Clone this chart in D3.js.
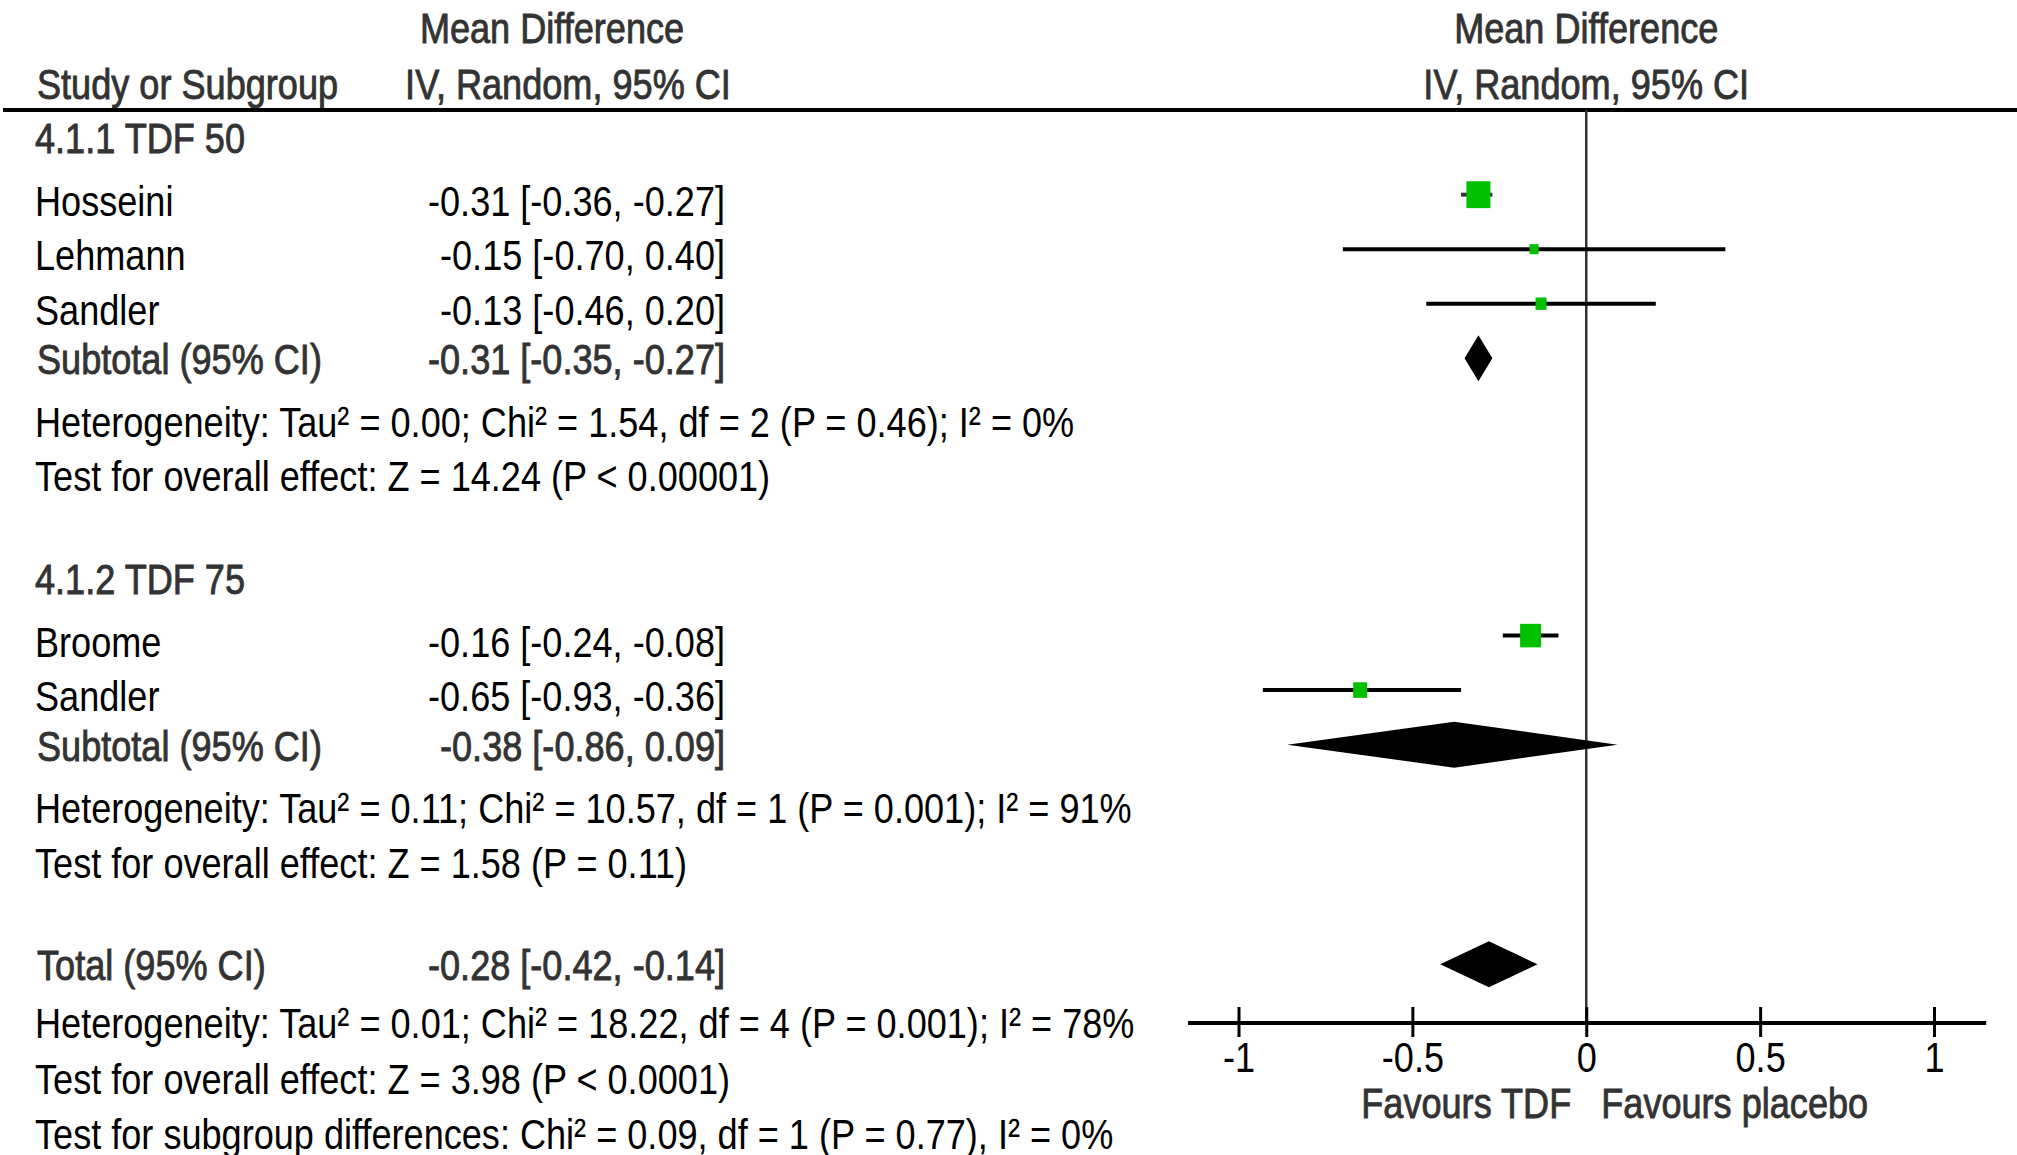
<!DOCTYPE html>
<html>
<head>
<meta charset="utf-8">
<script src="https://cdn.jsdelivr.net/npm/d3@7"></script>
<style>
  html, body { margin: 0; padding: 0; background: #fff; }
  svg { display: block; }
</style>
</head>
<body>
<svg id="chart" width="2017" height="1155"></svg>
<script>
// Forest plot: mean difference (IV, random effects, 95% CI), TDF vs placebo

// ---- study-level data ----
const studyNames  = ["Hosseini", "Lehmann", "Sandler", "Broome", "Sandler"];
const studyGroup  = [0, 0, 0, 1, 1];
const studyMD     = [-0.31, -0.15, -0.13, -0.16, -0.65];
const studyLo     = [-0.36, -0.70, -0.46, -0.24, -0.93];
const studyHi     = [-0.27,  0.40,  0.20, -0.08, -0.36];
const studyWeight = [40.7, 5.7, 8.6, 31.2, 13.8];   // % weight

// ---- subgroup data ----
const groupNames = ["4.1.1 TDF 50", "4.1.2 TDF 75"];
const subMD = [-0.31, -0.38];
const subLo = [-0.35, -0.86];
const subHi = [-0.27,  0.09];
const subHet = [
  "Heterogeneity: Tau\u00B2 = 0.00; Chi\u00B2 = 1.54, df = 2 (P = 0.46); I\u00B2 = 0%",
  "Heterogeneity: Tau\u00B2 = 0.11; Chi\u00B2 = 10.57, df = 1 (P = 0.001); I\u00B2 = 91%"
];
const subTest = [
  "Test for overall effect: Z = 14.24 (P < 0.00001)",
  "Test for overall effect: Z = 1.58 (P = 0.11)"
];

// ---- overall ----
const totalMD = [-0.28];
const totalLo = [-0.42];
const totalHi = [-0.14];
const totalNotes = [
  "Heterogeneity: Tau\u00B2 = 0.01; Chi\u00B2 = 18.22, df = 4 (P = 0.001); I\u00B2 = 78%",
  "Test for overall effect: Z = 3.98 (P < 0.0001)",
  "Test for subgroup differences: Chi\u00B2 = 0.09, df = 1 (P = 0.77), I\u00B2 = 0%"
];

// ---- axis ----
const tickValues = [-1, -0.5, 0, 0.5, 1];
const tickLabels = ["-1", "-0.5", "0", "0.5", "1"];
const favourLabels = ["Favours TDF", "Favours placebo"];

// ---------------------------------------------------------------
const FONT = "'Liberation Sans', Arial, sans-serif";
const FS = 43, SX = 0.84;
const HEAD = "#333";
const GREEN = "#00c000";

const svg = d3.select("#chart");
svg.append("rect").attr("width", 2017).attr("height", 1155).attr("fill", "#fff");

function txt(x, y, s, o = {}) {
  const t = svg.append("text")
    .attr("transform", `translate(${x},${y}) scale(${SX},1)`)
    .attr("font-family", FONT)
    .attr("font-size", o.size || FS)
    .attr("text-anchor", o.anchor || "start")
    .attr("fill", o.color || "#000")
    .text(s);
  if (o.heavy) t.attr("stroke", o.color || "#000").attr("stroke-width", 0.9);
  return t;
}
const fmt = v => v.toFixed(2);
const ciText = (m, l, h) => `${fmt(m)} [${fmt(l)}, ${fmt(h)}]`;

// x scale for the plot panel
const x = d3.scaleLinear().domain([-1, 1]).range([1238.5, 1934]);
const axisExtent = [-1.145, 1.15];

// ---- build the row list ----
const rows = [];
groupNames.forEach((g, gi) => {
  rows.push({ kind: "group", label: g });
  studyNames.forEach((n, i) => {
    if (studyGroup[i] === gi) rows.push({ kind: "study", i });
  });
  rows.push({ kind: "subtotal", gi });
  rows.push({ kind: "het", label: subHet[gi] });
  rows.push({ kind: "test", label: subTest[gi] });
});
rows.push({ kind: "total" });
totalNotes.forEach(s => rows.push({ kind: "note", label: s }));

// vertical advance (in line units) depending on row kind and the row before
const LINE = 54.5;
function advance(prev, cur) {
  if (cur.kind === "study") return prev.kind === "group" ? 1.15 : 1.0;
  if (cur.kind === "subtotal") return 0.91;
  if (cur.kind === "het") return 1.15;
  if (cur.kind === "test") return 1.0;
  if (cur.kind === "group" || cur.kind === "total") return 1.88;
  if (cur.kind === "note") return prev.kind === "total" ? 1.06 : 1.02;
  return 1;
}
let yCur = 153;
rows.forEach((r, k) => {
  if (k > 0) yCur += advance(rows[k - 1], r) * LINE;
  r.y = yCur;
});

// ---- column headers ----
txt(552, 43, "Mean Difference", { anchor: "middle", color: HEAD, heavy: true });
txt(37, 99, "Study or Subgroup", { color: HEAD, heavy: true });
txt(568, 99, "IV, Random, 95% CI", { anchor: "middle", color: HEAD, heavy: true });
txt(x(0), 43, "Mean Difference", { anchor: "middle", color: HEAD, heavy: true });
txt(x(0), 99, "IV, Random, 95% CI", { anchor: "middle", color: HEAD, heavy: true });

svg.append("line").attr("x1", 3).attr("x2", 2017).attr("y1", 110).attr("y2", 110)
  .attr("stroke", "#000").attr("stroke-width", 4);

// ---- zero line ----
const axisY = 1023;
svg.append("line").attr("x1", x(0)).attr("x2", x(0)).attr("y1", 110).attr("y2", axisY)
  .attr("stroke", "#333").attr("stroke-width", 2.5);

// ---- rows ----
const ciRight = 725;
const sideScale = d3.scaleSqrt().domain([0, 100]).range([0, 37.6]);

rows.forEach(r => {
  if (r.kind === "group") {
    txt(35, r.y, r.label, { color: HEAD, heavy: true });
  } else if (r.kind === "study") {
    const i = r.i;
    txt(35, r.y, studyNames[i]);
    txt(ciRight, r.y, ciText(studyMD[i], studyLo[i], studyHi[i]), { anchor: "end" });
    const cy = r.y - 21;
    svg.append("line").attr("x1", x(studyLo[i])).attr("x2", x(studyHi[i]))
      .attr("y1", cy).attr("y2", cy)
      .attr("stroke", studyWeight[i] > 35 ? "#333" : "#000").attr("stroke-width", 4);
    const w = sideScale(studyWeight[i]), h = w * 1.12;
    svg.append("rect").attr("x", x(studyMD[i]) - w / 2).attr("y", cy - h / 2)
      .attr("width", w).attr("height", h).attr("fill", GREEN);
  } else if (r.kind === "subtotal" || r.kind === "total") {
    const m = r.kind === "total" ? totalMD[0] : subMD[r.gi];
    const l = r.kind === "total" ? totalLo[0] : subLo[r.gi];
    const h = r.kind === "total" ? totalHi[0] : subHi[r.gi];
    txt(37, r.y, r.kind === "total" ? "Total (95% CI)" : "Subtotal (95% CI)", { color: HEAD, heavy: true });
    txt(ciRight, r.y, ciText(m, l, h), { anchor: "end", color: HEAD, heavy: true });
    const cy = r.y - 16, hh = 23;
    svg.append("path")
      .attr("d", `M${x(l)},${cy}L${x(m)},${cy - hh}L${x(h)},${cy}L${x(m)},${cy + hh}Z`)
      .attr("fill", "#000");
  } else {
    txt(35, r.y, r.label);
  }
});

// ---- x axis ----
svg.append("line").attr("x1", x(axisExtent[0])).attr("x2", x(axisExtent[1]))
  .attr("y1", axisY).attr("y2", axisY).attr("stroke", "#000").attr("stroke-width", 4);

const axisG = svg.append("g").attr("transform", `translate(0,${axisY})`)
  .call(d3.axisBottom(x).tickValues(tickValues)
    .tickFormat((d, i) => tickLabels[i]).tickSize(14).tickPadding(0));
axisG.select(".domain").remove();
axisG.selectAll(".tick line").attr("y1", -16).attr("y2", 14)
  .attr("stroke", "#000").attr("stroke-width", 3);
axisG.selectAll(".tick text")
  .attr("y", 0).attr("dy", null)
  .attr("transform", `translate(0,49) scale(${SX},1)`)
  .attr("font-family", FONT).attr("font-size", FS).attr("fill", "#000");

txt(x(0) - 15, 1118, favourLabels[0], { anchor: "end", color: HEAD, heavy: true });
txt(x(0) + 15, 1118, favourLabels[1], { anchor: "start", color: HEAD, heavy: true });
</script>
</body>
</html>
